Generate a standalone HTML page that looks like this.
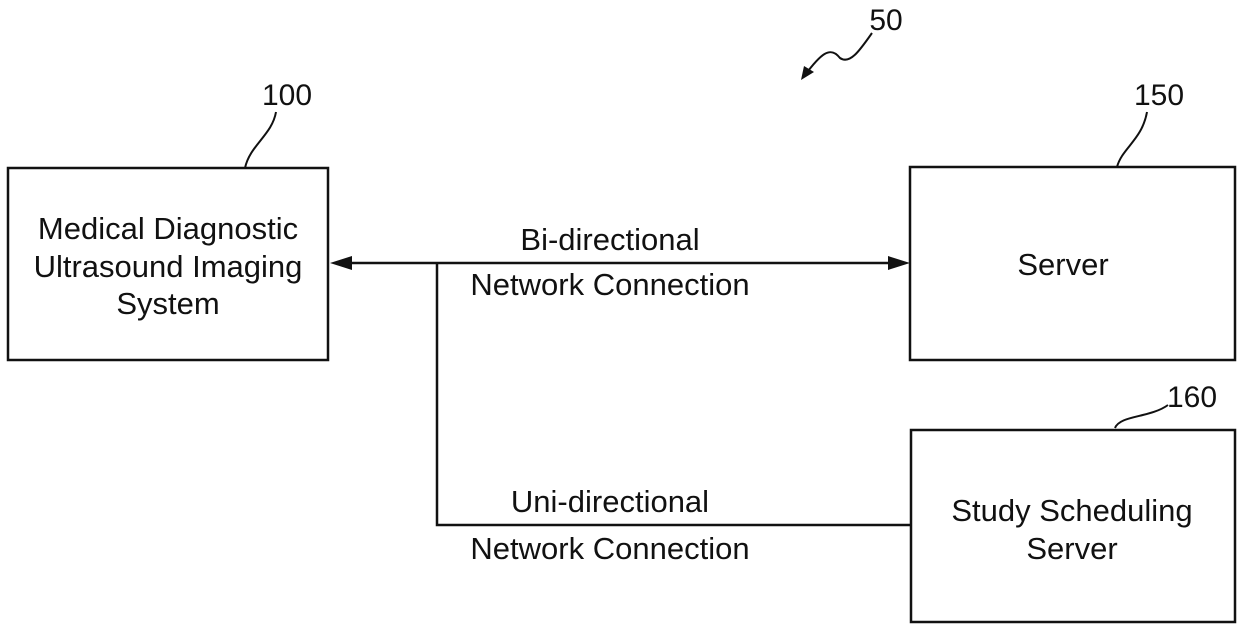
<!DOCTYPE html>
<html><head><style>
body{margin:0;background:#fff;}
svg{display:block;}
text{font-family:"Liberation Sans",Arial,sans-serif;font-size:31px;fill:#111;}
text.n{font-size:30px;}
</style></head><body>
<svg width="1240" height="630" viewBox="0 0 1240 630" xmlns="http://www.w3.org/2000/svg">
<g fill="none" stroke="#111" stroke-width="2.5">
<rect x="8" y="168" width="320" height="192"/>
<rect x="910" y="167" width="325" height="193"/>
<rect x="911" y="430" width="324" height="192"/>
<line x1="340" y1="263" x2="898" y2="263"/>
<polyline points="437,263 437,525 910,525"/>
<path d="M245,168 C250,145 272,135 276,112" stroke-width="2"/>
<path d="M1117,167 C1122,148 1142,140 1147,112" stroke-width="2"/>
<path d="M1115,428 C1120,415 1150,418 1168,405" stroke-width="2"/>
<path d="M872,33 C860,50 850,65 840,58 C830,45 820,55 805,75" stroke-width="2"/>
</g>
<polygon points="330,263 352,256 352,270" fill="#111"/>
<polygon points="910,263 888,256 888,270" fill="#111"/>
<polygon points="801,80 804,66 814,72" fill="#111"/>
<text x="168" y="239" text-anchor="middle">Medical Diagnostic</text>
<text x="168" y="277" text-anchor="middle">Ultrasound Imaging</text>
<text x="168" y="314" text-anchor="middle">System</text>
<text x="1063" y="275" text-anchor="middle">Server</text>
<text x="1072" y="521" text-anchor="middle">Study Scheduling</text>
<text x="1072" y="559" text-anchor="middle">Server</text>
<text x="610" y="250" text-anchor="middle">Bi-directional</text>
<text x="610" y="295" text-anchor="middle">Network Connection</text>
<text x="610" y="512" text-anchor="middle">Uni-directional</text>
<text x="610" y="559" text-anchor="middle">Network Connection</text>
<text class="n" x="287" y="105" text-anchor="middle">100</text>
<text class="n" x="1159" y="105" text-anchor="middle">150</text>
<text class="n" x="1192" y="407" text-anchor="middle">160</text>
<text class="n" x="886" y="30" text-anchor="middle">50</text>
</svg>
</body></html>
